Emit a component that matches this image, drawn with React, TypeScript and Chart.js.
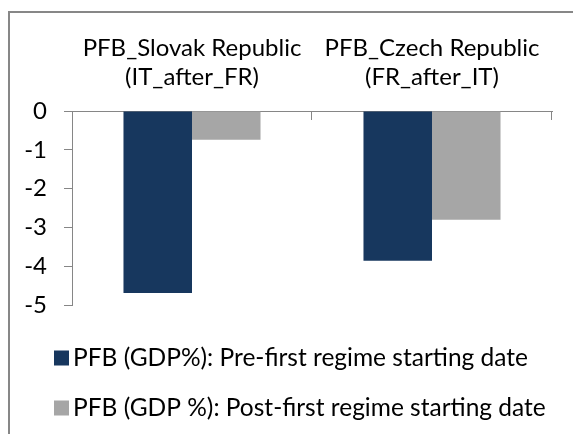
import React, { useEffect, useRef } from "react";
import { Chart, registerables } from "chart.js";

Chart.register(...registerables);

const categories: string[][] = [
  ["PFB_Slovak Republic", "(IT_after_FR)"],
  ["PFB_Czech Republic", "(FR_after_IT)"],
];
const preFirstValues = [-4.69, -3.86];
const postFirstValues = [-0.74, -2.8];
const seriesNames = [
  "PFB (GDP%): Pre-first regime starting date",
  "PFB (GDP %): Post-first regime starting date",
];
const seriesColors = ["#17375E", "#A6A6A6"];
const yMin = -5;
const yMax = 0;
const yStep = 1;

const FONT = "Lato, 'Open Sans', sans-serif";
const FONT_SIZE = 24;
const LEGEND_FONT_SIZE = 24.5;
const AXIS_GREY = "#868686";

const categoryTicks = {
  id: "categoryTicks",
  afterDraw(chart: any) {
    const xs = chart.scales.x;
    const ctx = chart.ctx;
    const n = chart.data.labels.length;
    const w = (xs.right - xs.left) / n;
    ctx.save();
    ctx.strokeStyle = AXIS_GREY;
    ctx.lineWidth = 1;
    for (let i = 0; i < n; i++) {
      const px = Math.round(xs.getPixelForValue(i) + w / 2) - 0.5;
      ctx.beginPath();
      ctx.moveTo(px, xs.bottom);
      ctx.lineTo(px, xs.bottom + 9);
      ctx.stroke();
    }
    ctx.restore();
  },
};

const customLegend = {
  id: "customLegend",
  afterDraw(chart: any) {
    const ctx = chart.ctx;
    const ds = chart.data.datasets;
    const rowY = [358, 408];
    ctx.save();
    ctx.font = `${LEGEND_FONT_SIZE}px ${FONT}`;
    ctx.textBaseline = "middle";
    ctx.textAlign = "left";
    ds.forEach((d: any, i: number) => {
      const y = rowY[i];
      ctx.fillStyle = d.backgroundColor;
      ctx.fillRect(54, y - 7.5, 15, 15);
      ctx.fillStyle = "#000";
      ctx.fillText(d.label, 73, y);
    });
    ctx.restore();
  },
};

export default function App() {
  const ref = useRef<HTMLCanvasElement>(null);

  useEffect(() => {
    if (!ref.current) return;
    const chart = new Chart(ref.current, {
      type: "bar",
      data: {
        labels: categories,
        datasets: [
          {
            label: seriesNames[0],
            data: preFirstValues,
            backgroundColor: seriesColors[0],
            categoryPercentage: 0.571,
            barPercentage: 1,
          },
          {
            label: seriesNames[1],
            data: postFirstValues,
            backgroundColor: seriesColors[1],
            categoryPercentage: 0.571,
            barPercentage: 1,
          },
        ],
      },
      plugins: [categoryTicks, customLegend],
      options: {
        animation: false,
        responsive: false,
        maintainAspectRatio: false,
        layout: { padding: { left: 0, top: 0, right: 21, bottom: 129 } },
        plugins: {
          legend: { display: false },
          tooltip: { enabled: false },
          title: { display: false },
        },
        scales: {
          x: {
            position: "top",
            grid: { display: false, drawTicks: false },
            border: { display: true, color: AXIS_GREY, width: 1 },
            ticks: {
              color: "#000",
              padding: 19,
              maxRotation: 0,
              autoSkip: false,
              font: { family: FONT, size: FONT_SIZE, lineHeight: 29 / FONT_SIZE },
            },
            afterFit: (s: any) => {
              s.height = 111;
            },
          },
          y: {
            min: yMin,
            max: yMax,
            ticks: {
              stepSize: yStep,
              color: "#000",
              padding: 17,
              font: { family: FONT, size: FONT_SIZE },
            },
            grid: {
              display: true,
              drawOnChartArea: false,
              drawTicks: true,
              tickLength: 8,
              color: AXIS_GREY,
            },
            border: { display: true, color: AXIS_GREY, width: 1 },
            afterFit: (s: any) => {
              s.width = 72;
            },
          },
        },
      },
    });
    return () => chart.destroy();
  }, []);

  return (
    <div
      style={{
        position: "fixed",
        left: 0,
        top: 0,
        width: 573,
        height: 434,
        overflow: "hidden",
        background: "#fff",
      }}
    >
      <div
        style={{
          position: "absolute",
          left: 8,
          top: 11,
          width: 700,
          height: 600,
          border: "2px solid #878787",
        }}
      />
      <canvas
        ref={ref}
        width={573}
        height={434}
        style={{ position: "absolute", left: 0, top: 0 }}
      />
    </div>
  );
}
